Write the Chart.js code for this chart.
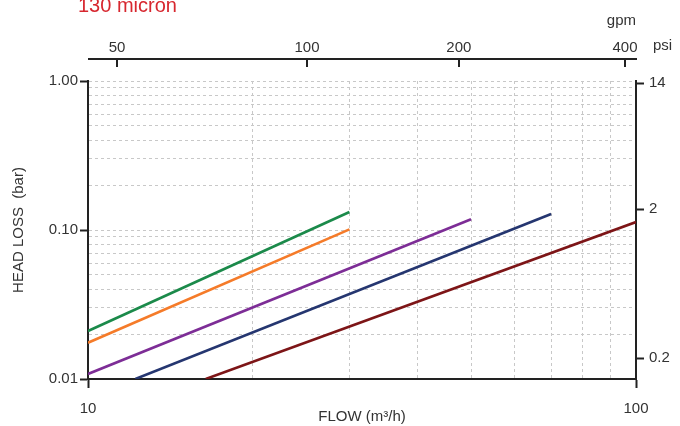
<!DOCTYPE html>
<html>
<head>
<meta charset="utf-8">
<script src="https://cdn.jsdelivr.net/npm/chart.js@4/dist/chart.umd.min.js"></script>
<style>
  html, body { margin: 0; padding: 0; background: #fff; }
  #wrap { width: 680px; height: 426px; }
</style>
</head>
<body>
<div id="wrap"><canvas id="lossChart" width="680" height="426"></canvas></div>
<script>
// flow in m3/h, head loss in bar
var greenFlow = [10, 30];
var greenLoss = [0.0210, 0.132];
var orangeFlow = [10, 30];
var orangeLoss = [0.0175, 0.101];
var purpleFlow = [10, 50];
var purpleLoss = [0.0108, 0.118];
var blueFlow = [12.2, 70];
var blueLoss = [0.01, 0.128];
var redFlow = [16.4, 100];
var redLoss = [0.01, 0.113];

var flowGrid = [10, 20, 30, 40, 50, 60, 70, 80, 90, 100];
var flowLabels = [10, 100];
var lossGrid = [0.01, 0.02, 0.03, 0.04, 0.05, 0.06, 0.07, 0.08, 0.09,
                0.1, 0.2, 0.3, 0.4, 0.5, 0.6, 0.7, 0.8, 0.9, 1];
var lossLabels = [0.01, 0.1, 1];
var gpmLabels = [50, 100, 200, 400];
var gpmAtFlow = [11.3, 25.1, 47.5, 95.5]; // where the reference puts each gpm tick
var psiTicks = [0.2, 2, 14];
var psiPerBar = 14.5;

var FONT = "'Liberation Sans Narrow', 'Liberation Sans', Arial, sans-serif";
var INK = '#222';
var GRID = '#c8c8c8';

Chart.defaults.font.family = FONT;
Chart.defaults.font.size = 15;
Chart.defaults.color = '#333';

function pts(xs, ys) {
  return xs.map(function (x, i) { return { x: x, y: ys[i] }; });
}
function isIn(list, v) {
  return list.some(function (a) { return Math.abs(a - v) < 1e-9; });
}
function line(label, xs, ys, color) {
  return { label: label, data: pts(xs, ys), borderColor: color, borderWidth: 2.6,
           pointRadius: 0, fill: false, tension: 0 };
}

var extras = {
  id: 'extras',
  afterDraw: function (chart) {
    var c = chart.ctx, area = chart.chartArea, top = chart.scales.xTop;
    c.save();
    // gpm axis line with ticks hanging down
    c.strokeStyle = INK;
    c.lineWidth = 2;
    c.beginPath();
    c.moveTo(area.left, 59);
    c.lineTo(area.right + 1, 59);
    c.stroke();
    gpmAtFlow.forEach(function (v) {
      var px = Math.round(top.getPixelForValue(v));
      c.beginPath();
      c.moveTo(px, 58);
      c.lineTo(px, 67);
      c.stroke();
    });
    c.fillStyle = '#333';
    c.font = '15px ' + FONT;
    c.textBaseline = 'middle';
    c.textAlign = 'left';
    c.fillText('psi', area.right + 17, 46);
    c.fillStyle = '#d7272f';
    c.font = '20px ' + FONT;
    c.textBaseline = 'alphabetic';
    c.fillText('130 micron', 78, 12);
    c.restore();
  }
};

new Chart(document.getElementById('lossChart'), {
  type: 'line',
  data: {
    datasets: [
      line('A', greenFlow, greenLoss, '#1b8a4a'),
      line('B', orangeFlow, orangeLoss, '#f57b29'),
      line('C', purpleFlow, purpleLoss, '#7d2d96'),
      line('D', blueFlow, blueLoss, '#253670'),
      line('E', redFlow, redLoss, '#7d1517')
    ]
  },
  plugins: [extras],
  options: {
    responsive: false,
    animation: false,
    layout: { padding: 0 },
    plugins: { legend: { display: false }, tooltip: { enabled: false } },
    scales: {
      x: {
        type: 'logarithmic', position: 'bottom', min: 10, max: 100,
        afterBuildTicks: function (s) { s.ticks = flowGrid.map(function (v) { return { value: v }; }); },
        afterFit: function (s) { s.height = 47; },
        ticks: {
          autoSkip: false, maxRotation: 0, padding: 12,
          callback: function (v) { return isIn(flowLabels, v) ? String(v) : ''; }
        },
        grid: {
          color: GRID, lineWidth: 1, tickLength: 9, tickWidth: 2,
          tickColor: function (ctx) { return ctx.tick && isIn(flowLabels, ctx.tick.value) ? INK : 'rgba(0,0,0,0)'; }
        },
        border: { display: true, color: INK, width: 2, dash: [3, 3] },
        title: { display: true, text: 'FLOW (m³/h)', padding: { top: 0, bottom: 0 }, font: { size: 15 } }
      },
      xTop: {
        type: 'logarithmic', position: 'top', min: 10, max: 100,
        afterBuildTicks: function (s) { s.ticks = gpmAtFlow.map(function (v) { return { value: v }; }); },
        afterFit: function (s) { s.height = 81; },
        ticks: {
          autoSkip: false, maxRotation: 0, padding: 24,
          callback: function (v, i) { return String(gpmLabels[i]); }
        },
        grid: { drawOnChartArea: false, drawTicks: false },
        border: { display: false },
        title: { display: true, text: 'gpm', align: 'end', padding: { top: 12, bottom: 0 }, font: { size: 15 } }
      },
      y: {
        type: 'logarithmic', position: 'left', min: 0.01, max: 1,
        afterBuildTicks: function (s) { s.ticks = lossGrid.map(function (v) { return { value: v }; }); },
        afterFit: function (s) { s.width = 88; },
        ticks: {
          autoSkip: false, padding: 2,
          callback: function (v) { return isIn(lossLabels, v) ? Number(v).toFixed(2) : ''; }
        },
        grid: {
          color: GRID, lineWidth: 1, tickLength: 8, tickWidth: 2,
          tickColor: function (ctx) { return ctx.tick && isIn(lossLabels, ctx.tick.value) ? INK : 'rgba(0,0,0,0)'; }
        },
        border: { display: true, color: INK, width: 2, dash: [3, 3] },
        title: { display: true, text: 'HEAD LOSS  (bar)', padding: { top: 10, bottom: 0 }, font: { size: 15 } }
      },
      y2: {
        type: 'logarithmic', position: 'right', min: 0.01 * psiPerBar, max: 1 * psiPerBar,
        afterBuildTicks: function (s) { s.ticks = psiTicks.map(function (v) { return { value: v }; }); },
        afterFit: function (s) { s.width = 44; },
        ticks: {
          autoSkip: false, padding: 5,
          callback: function (v) { return String(v); }
        },
        grid: { drawOnChartArea: false, color: INK, tickLength: 8, tickWidth: 2, tickColor: INK },
        border: { display: true, color: INK, width: 2 }
      }
    }
  }
});
</script>
</body>
</html>
